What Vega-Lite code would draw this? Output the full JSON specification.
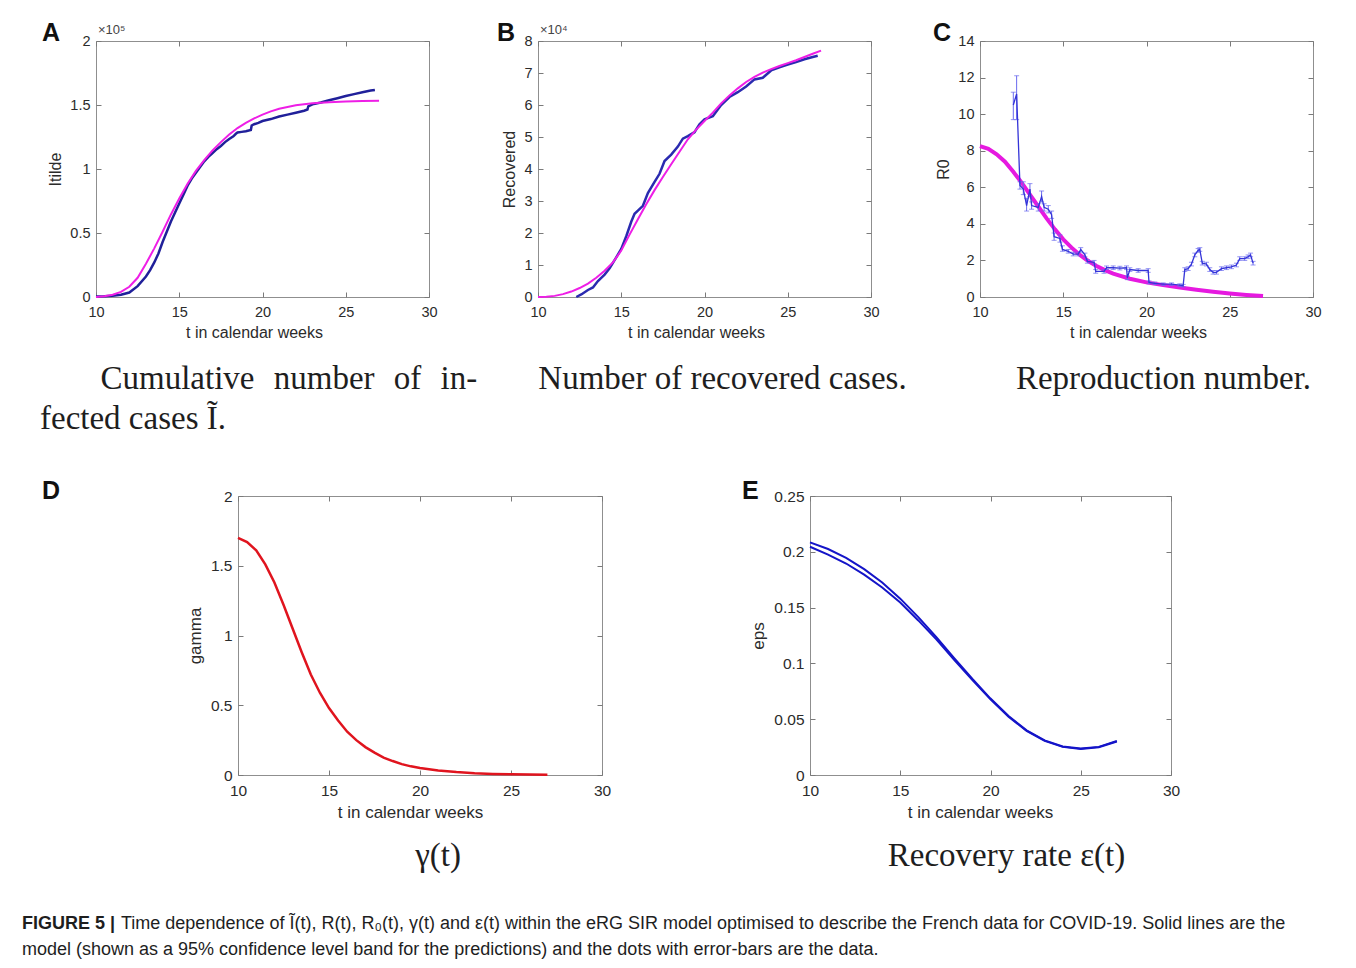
{
  "$schema": "https://vega.github.io/schema/vega-lite/v6.json",
  "background": "white",
  "padding": {"left": 22, "top": 20, "right": 0, "bottom": 0},
  "datasets": {
    "A_model": [
      {"t":10,"v":0},{"t":10.5,"v":600},{"t":11,"v":1800},{"t":11.5,"v":4000},{"t":12,"v":8000},{"t":12.5,"v":15000},{"t":13,"v":26000},{"t":13.5,"v":38000},{"t":14,"v":51000},{"t":14.5,"v":64500},{"t":15,"v":77000},{"t":15.5,"v":88500},{"t":16,"v":98500},{"t":16.5,"v":107000},{"t":17,"v":114500},{"t":17.5,"v":121000},{"t":18,"v":127000},{"t":18.5,"v":132000},{"t":19,"v":136000},{"t":19.5,"v":139500},{"t":20,"v":142500},{"t":20.5,"v":145000},{"t":21,"v":147000},{"t":22,"v":149800},{"t":23,"v":151300},{"t":24,"v":152200},{"t":25,"v":152800},{"t":26,"v":153200},{"t":27,"v":153400}
    ],
    "A_data": [
      {"t":10,"v":300},{"t":10.5,"v":500},{"t":11,"v":900},{"t":11.5,"v":1800},{"t":12,"v":3500},{"t":12.5,"v":8500},{"t":13,"v":16000},{"t":13.25,"v":21000},{"t":13.5,"v":27000},{"t":13.75,"v":34000},{"t":14,"v":43000},{"t":14.25,"v":51000},{"t":14.5,"v":59000},{"t":14.75,"v":66000},{"t":15,"v":73000},{"t":15.25,"v":80000},{"t":15.5,"v":87000},{"t":15.75,"v":92500},{"t":16,"v":97000},{"t":16.25,"v":101500},{"t":16.5,"v":106000},{"t":16.75,"v":109500},{"t":17,"v":112500},{"t":17.25,"v":115500},{"t":17.5,"v":118000},{"t":17.75,"v":121000},{"t":18,"v":123500},{"t":18.25,"v":125500},{"t":18.4,"v":127500},{"t":18.5,"v":128500},{"t":18.75,"v":129000},{"t":19,"v":129500},{"t":19.3,"v":130500},{"t":19.35,"v":134000},{"t":19.5,"v":135000},{"t":19.75,"v":136000},{"t":20,"v":137500},{"t":20.5,"v":139000},{"t":21,"v":141000},{"t":21.5,"v":142500},{"t":22,"v":144000},{"t":22.5,"v":145500},{"t":22.7,"v":146500},{"t":22.75,"v":149000},{"t":23,"v":150500},{"t":23.5,"v":152000},{"t":24,"v":153700},{"t":24.5,"v":155300},{"t":25,"v":157000},{"t":25.5,"v":158500},{"t":26,"v":160000},{"t":26.5,"v":161300},{"t":26.75,"v":161800}
    ],
    "B_model": [
      {"t":10,"v":0},{"t":10.5,"v":100},{"t":11,"v":350},{"t":11.5,"v":900},{"t":12,"v":1700},{"t":12.5,"v":2800},{"t":13,"v":4200},{"t":13.5,"v":6000},{"t":14,"v":8200},{"t":14.5,"v":10800},{"t":15,"v":14500},{"t":15.5,"v":19500},{"t":16,"v":24300},{"t":16.5,"v":29000},{"t":17,"v":33400},{"t":17.5,"v":37500},{"t":18,"v":41500},{"t":18.5,"v":45400},{"t":19,"v":49300},{"t":19.5,"v":52300},{"t":20,"v":55000},{"t":20.5,"v":57600},{"t":21,"v":60500},{"t":21.5,"v":63000},{"t":22,"v":65200},{"t":22.5,"v":67200},{"t":23,"v":68800},{"t":23.5,"v":70100},{"t":24,"v":71200},{"t":24.5,"v":72200},{"t":25,"v":73100},{"t":25.5,"v":74000},{"t":26,"v":75000},{"t":26.5,"v":76000},{"t":27,"v":77000}
    ],
    "B_data": [
      {"t":12.3,"v":0},{"t":12.6,"v":800},{"t":13,"v":2200},{"t":13.3,"v":3000},{"t":13.6,"v":5000},{"t":14,"v":7000},{"t":14.3,"v":9000},{"t":14.6,"v":11500},{"t":15,"v":15000},{"t":15.3,"v":19000},{"t":15.6,"v":23500},{"t":15.8,"v":26000},{"t":16,"v":27000},{"t":16.3,"v":28500},{"t":16.6,"v":32500},{"t":17,"v":36000},{"t":17.3,"v":38500},{"t":17.6,"v":42500},{"t":18,"v":44500},{"t":18.4,"v":47000},{"t":18.7,"v":49500},{"t":19,"v":50300},{"t":19.4,"v":51500},{"t":19.7,"v":54000},{"t":20,"v":55500},{"t":20.5,"v":56500},{"t":21,"v":60000},{"t":21.5,"v":62500},{"t":22,"v":64000},{"t":22.5,"v":65800},{"t":23,"v":68000},{"t":23.5,"v":68500},{"t":24,"v":70800},{"t":24.5,"v":71800},{"t":25,"v":72600},{"t":25.5,"v":73400},{"t":26,"v":74300},{"t":26.5,"v":75000},{"t":26.8,"v":75400}
    ],
    "C_model": [
      {"t":10,"v":8.25},{"t":10.5,"v":8.1},{"t":11,"v":7.8},{"t":11.5,"v":7.4},{"t":12,"v":6.85},{"t":12.5,"v":6.25},{"t":13,"v":5.6},{"t":13.5,"v":4.95},{"t":14,"v":4.3},{"t":14.5,"v":3.7},{"t":15,"v":3.15},{"t":15.5,"v":2.7},{"t":16,"v":2.3},{"t":16.5,"v":1.97},{"t":17,"v":1.7},{"t":17.5,"v":1.47},{"t":18,"v":1.28},{"t":19,"v":1.0},{"t":20,"v":0.8},{"t":21,"v":0.65},{"t":22,"v":0.52},{"t":23,"v":0.4},{"t":24,"v":0.29},{"t":25,"v":0.19},{"t":26,"v":0.11},{"t":27,"v":0.05}
    ],
    "C_data": [
      {"t":12.0,"v":10.5,"lo":9.7,"hi":11.2},{"t":12.2,"v":11.1,"lo":9.7,"hi":12.1},{"t":12.4,"v":6.1,"lo":5.9,"hi":6.3},{"t":12.6,"v":5.9,"lo":5.6,"hi":6.3},{"t":12.8,"v":5.0,"lo":4.7,"hi":5.4},{"t":13.0,"v":5.9,"lo":5.5,"hi":6.2},{"t":13.1,"v":5.0,"lo":4.8,"hi":5.2},{"t":13.5,"v":4.9,"lo":4.7,"hi":5.1},{"t":13.7,"v":5.5,"lo":5.2,"hi":5.8},{"t":13.85,"v":4.9,"lo":4.7,"hi":5.1},{"t":14.1,"v":4.8,"lo":4.6,"hi":5.0},{"t":14.3,"v":4.5,"lo":4.3,"hi":4.7},{"t":14.45,"v":3.3,"lo":3.1,"hi":3.5},{"t":14.8,"v":3.2,"lo":3.0,"hi":3.4},{"t":14.95,"v":2.6,"lo":2.5,"hi":2.8},{"t":15.3,"v":2.5,"lo":2.4,"hi":2.6},{"t":15.6,"v":2.35,"lo":2.25,"hi":2.45},{"t":15.9,"v":2.35,"lo":2.25,"hi":2.45},{"t":16.05,"v":2.6,"lo":2.45,"hi":2.7},{"t":16.3,"v":2.3,"lo":2.2,"hi":2.4},{"t":16.45,"v":1.95,"lo":1.85,"hi":2.05},{"t":16.85,"v":1.9,"lo":1.8,"hi":2.0},{"t":16.95,"v":1.4,"lo":1.3,"hi":1.5},{"t":17.45,"v":1.4,"lo":1.3,"hi":1.5},{"t":17.6,"v":1.6,"lo":1.5,"hi":1.7},{"t":18.0,"v":1.6,"lo":1.5,"hi":1.7},{"t":18.4,"v":1.58,"lo":1.48,"hi":1.68},{"t":18.8,"v":1.6,"lo":1.5,"hi":1.7},{"t":18.85,"v":1.05,"lo":0.95,"hi":1.15},{"t":19.0,"v":1.5,"lo":1.4,"hi":1.6},{"t":19.5,"v":1.45,"lo":1.35,"hi":1.55},{"t":20.1,"v":1.45,"lo":1.35,"hi":1.55},{"t":20.15,"v":0.8,"lo":0.72,"hi":0.88},{"t":20.5,"v":0.75,"lo":0.68,"hi":0.82},{"t":21.0,"v":0.7,"lo":0.63,"hi":0.77},{"t":21.5,"v":0.7,"lo":0.63,"hi":0.77},{"t":22.0,"v":0.65,"lo":0.58,"hi":0.72},{"t":22.2,"v":0.62,"lo":0.55,"hi":0.69},{"t":22.3,"v":1.5,"lo":1.4,"hi":1.6},{"t":22.5,"v":1.55,"lo":1.45,"hi":1.65},{"t":22.7,"v":1.8,"lo":1.7,"hi":1.9},{"t":22.9,"v":2.3,"lo":2.2,"hi":2.4},{"t":23.1,"v":2.55,"lo":2.45,"hi":2.65},{"t":23.2,"v":2.6,"lo":2.5,"hi":2.7},{"t":23.35,"v":1.85,"lo":1.75,"hi":1.95},{"t":23.6,"v":1.8,"lo":1.7,"hi":1.9},{"t":23.8,"v":1.5,"lo":1.4,"hi":1.6},{"t":24.0,"v":1.35,"lo":1.25,"hi":1.45},{"t":24.2,"v":1.35,"lo":1.25,"hi":1.45},{"t":24.5,"v":1.55,"lo":1.45,"hi":1.65},{"t":24.8,"v":1.6,"lo":1.5,"hi":1.7},{"t":25.1,"v":1.65,"lo":1.55,"hi":1.75},{"t":25.4,"v":1.75,"lo":1.65,"hi":1.85},{"t":25.6,"v":2.1,"lo":2.0,"hi":2.2},{"t":25.9,"v":2.1,"lo":2.0,"hi":2.2},{"t":26.1,"v":2.2,"lo":2.1,"hi":2.3},{"t":26.25,"v":2.3,"lo":2.2,"hi":2.4},{"t":26.4,"v":1.85,"lo":1.75,"hi":1.95}
    ],
    "D_model": [
      {"t":10,"v":1.70},{"t":10.5,"v":1.67},{"t":11,"v":1.61},{"t":11.5,"v":1.51},{"t":12,"v":1.38},{"t":12.5,"v":1.22},{"t":13,"v":1.05},{"t":13.5,"v":0.88},{"t":14,"v":0.72},{"t":14.5,"v":0.59},{"t":15,"v":0.48},{"t":15.5,"v":0.39},{"t":16,"v":0.31},{"t":16.5,"v":0.25},{"t":17,"v":0.2},{"t":17.5,"v":0.16},{"t":18,"v":0.125},{"t":18.5,"v":0.1},{"t":19,"v":0.078},{"t":19.5,"v":0.062},{"t":20,"v":0.05},{"t":21,"v":0.033},{"t":22,"v":0.021},{"t":23,"v":0.013},{"t":24,"v":0.008},{"t":25,"v":0.005},{"t":26,"v":0.003},{"t":27,"v":0.002}
    ],
    "E_model": [
      {"t":10,"upper":0.2085,"lower":0.2045},{"t":11,"upper":0.2025,"lower":0.1975},{"t":12,"upper":0.1945,"lower":0.1895},{"t":13,"upper":0.1845,"lower":0.1795},{"t":14,"upper":0.1725,"lower":0.168},{"t":15,"upper":0.158,"lower":0.1545},{"t":16,"upper":0.1415,"lower":0.1385},{"t":17,"upper":0.1235,"lower":0.1215},{"t":18,"upper":0.1045,"lower":0.103},{"t":19,"upper":0.086,"lower":0.085},{"t":20,"upper":0.0685,"lower":0.0678},{"t":21,"upper":0.0528,"lower":0.0522},{"t":22,"upper":0.04,"lower":0.0395},{"t":23,"upper":0.031,"lower":0.0306},{"t":24,"upper":0.0256,"lower":0.0252},{"t":25,"upper":0.0237,"lower":0.0233},{"t":26,"upper":0.0252,"lower":0.0248},{"t":27,"upper":0.0305,"lower":0.03}
    ],
    "caption": [
      {"seg":"bold","line":1,"text":"FIGURE 5 |"},
      {"seg":"first","line":1,"text":"Time dependence of Ĩ(t), R(t), R₀(t), γ(t) and ε(t) within the eRG SIR model optimised to describe the French data for COVID-19. Solid lines are the"},
      {"seg":"second","line":2,"text":"model (shown as a 95% confidence level band for the predictions) and the dots with error-bars are the data."}
    ]
  },
  "bounds": "flush",
  "spacing": 455,
  "vconcat": [
    {
      "bounds": "flush",
      "spacing": 109,
      "hconcat": [
        {
          "width": 333, "height": 256,
          "title": {"text": ["\u200b\u2003\u2002\u2004Cumulative\u2002\u200anumber\u2002\u200aof\u2002\u200ain-", "fected cases Ĩ."], "orient": "bottom", "anchor": "start", "align": "left", "frame": "group", "dx": -56, "offset": 22, "font": "Liberation Serif", "fontSize": 33, "fontWeight": "normal", "color": "#1e1e1e", "lineHeight": 40},
          "resolve": {"axis": {"x": "independent", "y": "independent"}},
          "layer": [
            {"data": {"name": "A_data"}, "mark": {"type": "line", "color": "#20209a", "strokeWidth": 2.5},
             "encoding": {
               "x": {"field": "t", "type": "quantitative", "scale": {"domain": [10, 30], "nice": false, "zero": false}, "axis": {"orient": "bottom", "values": [10, 15, 20, 25, 30], "title": "t in calendar weeks", "titleX": 158}},
               "y": {"field": "v", "type": "quantitative", "scale": {"domain": [0, 200000], "nice": false}, "axis": {"orient": "left", "values": [0, 50000, 100000, 150000, 200000], "labelExpr": "format(datum.value/100000, '~g')", "title": "Itilde"}}}},
            {"data": {"name": "A_model"}, "mark": {"type": "line", "color": "#ee1ee6", "strokeWidth": 2},
             "encoding": {
               "x": {"field": "t", "type": "quantitative", "axis": {"orient": "top", "values": [10, 15, 20, 25, 30], "labels": false, "title": null}},
               "y": {"field": "v", "type": "quantitative", "axis": {"orient": "right", "values": [0, 50000, 100000, 150000, 200000], "labels": false, "title": null}}}},
            {"data": {"values": [{}]}, "mark": {"type": "text", "text": "A", "font": "Liberation Sans", "fontSize": 25, "fontWeight": "bold", "align": "left", "baseline": "alphabetic", "dx": -54, "dy": 0, "color": "#111111"},
             "encoding": {"x": {"datum": 10, "type": "quantitative", "axis": null}, "y": {"datum": 200000, "type": "quantitative", "axis": null}}},
            {"data": {"values": [{}]}, "mark": {"type": "text", "text": "×10⁵", "font": "Liberation Sans", "fontSize": 13, "align": "left", "baseline": "alphabetic", "dx": 2, "dy": -7, "color": "#444444"},
             "encoding": {"x": {"datum": 10, "type": "quantitative", "axis": null}, "y": {"datum": 200000, "type": "quantitative", "axis": null}}}
          ]
        },
        {
          "width": 333, "height": 256,
          "title": {"text": "Number of recovered cases.", "orient": "bottom", "anchor": "middle", "frame": "group", "dx": 18, "offset": 22, "font": "Liberation Serif", "fontSize": 33, "fontWeight": "normal", "color": "#1e1e1e"},
          "resolve": {"axis": {"x": "independent", "y": "independent"}},
          "layer": [
            {"data": {"name": "B_data"}, "mark": {"type": "line", "color": "#2a2ab0", "strokeWidth": 2.5},
             "encoding": {
               "x": {"field": "t", "type": "quantitative", "scale": {"domain": [10, 30], "nice": false, "zero": false}, "axis": {"orient": "bottom", "values": [10, 15, 20, 25, 30], "title": "t in calendar weeks", "titleX": 158}},
               "y": {"field": "v", "type": "quantitative", "scale": {"domain": [0, 80000], "nice": false}, "axis": {"orient": "left", "values": [0, 10000, 20000, 30000, 40000, 50000, 60000, 70000, 80000], "labelExpr": "format(datum.value/10000, '~g')", "title": "Recovered"}}}},
            {"data": {"name": "B_model"}, "mark": {"type": "line", "color": "#ee1ee6", "strokeWidth": 2},
             "encoding": {
               "x": {"field": "t", "type": "quantitative", "axis": {"orient": "top", "values": [10, 15, 20, 25, 30], "labels": false, "title": null}},
               "y": {"field": "v", "type": "quantitative", "axis": {"orient": "right", "values": [0, 10000, 20000, 30000, 40000, 50000, 60000, 70000, 80000], "labels": false, "title": null}}}},
            {"data": {"values": [{}]}, "mark": {"type": "text", "text": "B", "font": "Liberation Sans", "fontSize": 25, "fontWeight": "bold", "align": "left", "baseline": "alphabetic", "dx": -41, "dy": 0, "color": "#111111"},
             "encoding": {"x": {"datum": 10, "type": "quantitative", "axis": null}, "y": {"datum": 80000, "type": "quantitative", "axis": null}}},
            {"data": {"values": [{}]}, "mark": {"type": "text", "text": "×10⁴", "font": "Liberation Sans", "fontSize": 13, "align": "left", "baseline": "alphabetic", "dx": 2, "dy": -7, "color": "#444444"},
             "encoding": {"x": {"datum": 10, "type": "quantitative", "axis": null}, "y": {"datum": 80000, "type": "quantitative", "axis": null}}}
          ]
        },
        {
          "width": 333, "height": 256,
          "title": {"text": "Reproduction number.", "orient": "bottom", "anchor": "middle", "frame": "group", "dx": 17, "offset": 22, "font": "Liberation Serif", "fontSize": 33, "fontWeight": "normal", "color": "#1e1e1e"},
          "resolve": {"axis": {"x": "independent", "y": "independent"}},
          "layer": [
            {"data": {"name": "C_model"}, "mark": {"type": "line", "color": "#e619e0", "strokeWidth": 4},
             "encoding": {
               "x": {"field": "t", "type": "quantitative", "scale": {"domain": [10, 30], "nice": false, "zero": false}, "axis": {"orient": "bottom", "values": [10, 15, 20, 25, 30], "title": "t in calendar weeks", "titleX": 158}},
               "y": {"field": "v", "type": "quantitative", "scale": {"domain": [0, 14], "nice": false}, "axis": {"orient": "left", "values": [0, 2, 4, 6, 8, 10, 12, 14], "title": "R0"}}}},
            {"data": {"name": "C_data"}, "mark": {"type": "rule", "color": "#6a6aee", "strokeWidth": 1},
             "encoding": {
               "x": {"field": "t", "type": "quantitative", "axis": {"orient": "top", "values": [10, 15, 20, 25, 30], "labels": false, "title": null}},
               "y": {"field": "lo", "type": "quantitative", "axis": {"orient": "right", "values": [0, 2, 4, 6, 8, 10, 12, 14], "labels": false, "title": null}},
               "y2": {"field": "hi"}}},
            {"data": {"name": "C_data"}, "mark": {"type": "tick", "color": "#6a6aee", "thickness": 1, "size": 5, "orient": "horizontal"},
             "encoding": {
               "x": {"field": "t", "type": "quantitative", "axis": null},
               "y": {"field": "hi", "type": "quantitative", "axis": null}}},
            {"data": {"name": "C_data"}, "mark": {"type": "tick", "color": "#6a6aee", "thickness": 1, "size": 5, "orient": "horizontal"},
             "encoding": {
               "x": {"field": "t", "type": "quantitative", "axis": null},
               "y": {"field": "lo", "type": "quantitative", "axis": null}}},
            {"data": {"name": "C_data"}, "mark": {"type": "line", "color": "#3434d8", "strokeWidth": 1.3},
             "encoding": {
               "x": {"field": "t", "type": "quantitative", "axis": null},
               "y": {"field": "v", "type": "quantitative", "axis": null}}},
            {"data": {"values": [{}]}, "mark": {"type": "text", "text": "C", "font": "Liberation Sans", "fontSize": 25, "fontWeight": "bold", "align": "left", "baseline": "alphabetic", "dx": -47, "dy": 0, "color": "#111111"},
             "encoding": {"x": {"datum": 10, "type": "quantitative", "axis": null}, "y": {"datum": 14, "type": "quantitative", "axis": null}}}
          ]
        }
      ]
    },
    {
      "bounds": "flush",
      "spacing": 415,
      "vconcat": [
        {
          "bounds": "flush",
          "spacing": 10,
          "hconcat": [
            {"width": 132, "height": 279, "view": {"stroke": null}, "data": {"values": [{}]}, "mark": {"type": "point", "opacity": 0}},
            {
              "width": 364, "height": 279,
              "title": {"text": "γ(t)", "orient": "bottom", "anchor": "middle", "frame": "group", "dx": 18, "offset": 19, "font": "Liberation Serif", "fontSize": 33, "fontWeight": "normal", "color": "#1e1e1e"},
              "resolve": {"axis": {"x": "independent", "y": "independent"}},
              "layer": [
                {"data": {"name": "D_model"}, "mark": {"type": "line", "color": "#e0141e", "strokeWidth": 2.5},
                 "encoding": {
                   "x": {"field": "t", "type": "quantitative", "scale": {"domain": [10, 30], "nice": false, "zero": false}, "axis": {"orient": "bottom", "values": [10, 15, 20, 25, 30], "title": "t in calendar weeks", "titleX": 172, "labelFontSize": 15.5, "titleFontSize": 17}},
                   "y": {"field": "v", "type": "quantitative", "scale": {"domain": [0, 2], "nice": false}, "axis": {"orient": "left", "values": [0, 0.5, 1, 1.5, 2], "labelExpr": "format(datum.value, '~g')", "title": "gamma", "labelFontSize": 15.5, "titleFontSize": 17}}}},
                {"data": {"name": "D_model"}, "mark": {"type": "line", "opacity": 0},
                 "encoding": {
                   "x": {"field": "t", "type": "quantitative", "axis": {"orient": "top", "values": [10, 15, 20, 25, 30], "labels": false, "title": null}},
                   "y": {"field": "v", "type": "quantitative", "axis": {"orient": "right", "values": [0, 0.5, 1, 1.5, 2], "labels": false, "title": null}}}},
                {"data": {"values": [{}]}, "mark": {"type": "text", "text": "D", "font": "Liberation Sans", "fontSize": 25, "fontWeight": "bold", "align": "left", "baseline": "alphabetic", "dx": -196, "dy": 3, "color": "#111111"},
                 "encoding": {"x": {"datum": 10, "type": "quantitative", "axis": null}, "y": {"datum": 2, "type": "quantitative", "axis": null}}}
              ]
            },
            {"width": 188, "height": 279, "view": {"stroke": null}, "data": {"values": [{}]}, "mark": {"type": "point", "opacity": 0}},
            {
              "width": 361, "height": 279,
              "title": {"text": "Recovery rate ε(t)", "orient": "bottom", "anchor": "middle", "frame": "group", "dx": 16, "offset": 19, "font": "Liberation Serif", "fontSize": 33, "fontWeight": "normal", "color": "#1e1e1e"},
              "resolve": {"axis": {"x": "independent", "y": "independent"}},
              "layer": [
                {"data": {"name": "E_model"}, "mark": {"type": "line", "color": "#1414c8", "strokeWidth": 2},
                 "encoding": {
                   "x": {"field": "t", "type": "quantitative", "scale": {"domain": [10, 30], "nice": false, "zero": false}, "axis": {"orient": "bottom", "values": [10, 15, 20, 25, 30], "title": "t in calendar weeks", "titleX": 170, "labelFontSize": 15.5, "titleFontSize": 17}},
                   "y": {"field": "upper", "type": "quantitative", "scale": {"domain": [0, 0.25], "nice": false}, "axis": {"orient": "left", "values": [0, 0.05, 0.1, 0.15, 0.2, 0.25], "labelExpr": "format(datum.value, '~g')", "title": "eps", "labelFontSize": 15.5, "titleFontSize": 17}}}},
                {"data": {"name": "E_model"}, "mark": {"type": "line", "color": "#1414c8", "strokeWidth": 2},
                 "encoding": {
                   "x": {"field": "t", "type": "quantitative", "axis": {"orient": "top", "values": [10, 15, 20, 25, 30], "labels": false, "title": null}},
                   "y": {"field": "lower", "type": "quantitative", "axis": {"orient": "right", "values": [0, 0.05, 0.1, 0.15, 0.2, 0.25], "labels": false, "title": null}}}},
                {"data": {"values": [{}]}, "mark": {"type": "text", "text": "E", "font": "Liberation Sans", "fontSize": 25, "fontWeight": "bold", "align": "left", "baseline": "alphabetic", "dx": -68, "dy": 3, "color": "#111111"},
                 "encoding": {"x": {"datum": 10, "type": "quantitative", "axis": null}, "y": {"datum": 0.25, "type": "quantitative", "axis": null}}}
              ]
            }
          ]
        },
        {
          "width": 1200, "height": 52,
          "view": {"stroke": null},
          "data": {"name": "caption"},
          "encoding": {
            "x": {"datum": 0, "type": "quantitative", "scale": {"domain": [0, 1]}, "axis": null},
            "y": {"field": "line", "type": "ordinal", "scale": {"type": "point", "padding": 0.5, "domain": [1, 2]}, "axis": null},
            "text": {"field": "text"}
          },
          "layer": [
            {"transform": [{"filter": "datum.seg == 'bold'"}], "mark": {"type": "text", "align": "left", "baseline": "middle", "font": "Liberation Sans", "fontSize": 18, "fontWeight": "bold", "color": "#1e1e1e", "dx": -74}},
            {"transform": [{"filter": "datum.seg == 'first'"}], "mark": {"type": "text", "align": "left", "baseline": "middle", "font": "Liberation Sans", "fontSize": 18, "color": "#1e1e1e", "dx": 25}},
            {"transform": [{"filter": "datum.seg == 'second'"}], "mark": {"type": "text", "align": "left", "baseline": "middle", "font": "Liberation Sans", "fontSize": 18, "color": "#1e1e1e", "dx": -74}}
          ]
        }
      ]
    }
  ],
  "config": {
    "view": {"stroke": "#8f8f8f", "strokeWidth": 1},
    "axis": {"grid": false, "domain": false, "ticks": true, "tickColor": "#7a7a7a", "tickSize": -5, "labelFlush": false, "labelFont": "Liberation Sans", "labelFontSize": 14.5, "labelColor": "#2b2b2b", "titleFont": "Liberation Sans", "titleFontSize": 16, "titleFontWeight": "normal", "titleColor": "#2b2b2b", "titlePadding": 6},
    "axisX": {"labelPadding": 13},
    "axisY": {"labelPadding": 11},
    "text": {"font": "Liberation Sans"}
  }
}
